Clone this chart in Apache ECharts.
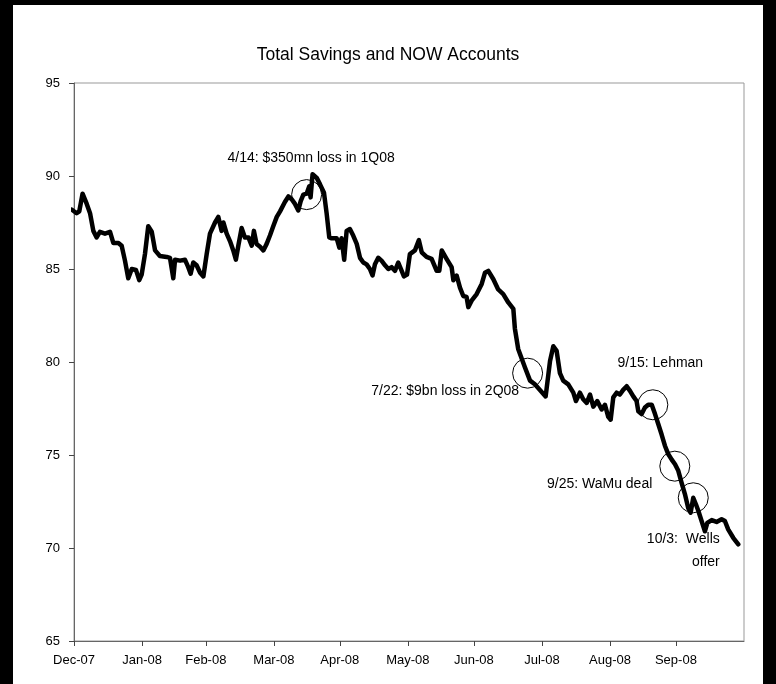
<!DOCTYPE html>
<html>
<head>
<meta charset="utf-8">
<title>Total Savings and NOW Accounts</title>
<script src="https://cdn.jsdelivr.net/npm/echarts@6/dist/echarts.min.js"></script>
<style>
  html, body { margin: 0; padding: 0; background: #000; width: 776px; height: 684px; overflow: hidden; }
  #chart { position: absolute; left: 13px; top: 5px; width: 750px; height: 679px; background: #fff; }
</style>
</head>
<body>
<div id="chart"></div>
<script>
// x = days counted from 1 Jan 2008 (the tick labelled Dec-07)
const dayOffsets = [
  -3.3, -3.0, -1.1, 1.2, 2.4, 3.9, 5.8, 7.3, 8.8, 10.3,
  11.8, 14.1, 16.4, 17.9, 20.2, 21.7, 23.2, 24.7, 26.3, 28.2,
  29.7, 30.8, 32.3, 33.8, 35.4, 36.9, 39.1, 42.2, 43.7, 45.2,
  46.0, 48.3, 50.5, 52.0, 53.1, 54.3, 55.8, 57.4, 58.9, 60.4,
  61.9, 64.2, 65.7, 67.2, 68.0, 69.5, 71.0, 72.5, 73.7, 74.8,
  76.3, 77.8, 79.4, 80.9, 81.9, 83.1, 84.7, 86.2, 87.7, 89.2,
  90.7, 92.3, 93.8, 94.5, 96.0, 97.6, 99.1, 100.6, 102.1, 103.2,
  104.4, 105.9, 107.1, 107.7, 108.6, 110.5, 112.0, 113.8, 115.0, 116.2,
  117.3, 119.6, 120.8, 121.8, 123.0, 124.1, 125.6, 127.1, 128.7, 130.2,
  131.7, 133.2, 134.7, 135.9, 137.0, 138.5, 140.0, 141.6, 143.1, 144.6,
  146.1, 147.6, 150.2, 151.6, 152.9, 155.2, 157.0, 158.3, 160.5, 162.8,
  165.1, 166.3, 167.4, 169.6, 171.9, 172.7, 174.2, 175.7, 177.2, 178.7,
  179.5, 181.0, 183.3, 185.6, 187.1, 188.6, 190.9, 193.1, 195.4, 197.7,
  200.0, 200.7, 202.2, 205.3, 207.6, 209.8, 212.1, 214.7, 216.7, 218.2,
  219.7, 221.2, 222.7, 225.0, 227.3, 228.5, 230.3, 231.8, 233.4, 234.9,
  236.4, 238.2, 240.2, 241.7, 243.2, 244.3, 245.5, 247.0, 248.5, 250.0,
  251.6, 253.1, 254.6, 256.1, 256.9, 258.4, 259.9, 261.4, 263.0, 264.5,
  266.0, 267.5, 269.0, 270.5, 272.1, 273.6, 275.1, 276.6, 278.1, 279.6,
  280.7, 281.9, 283.1, 284.2, 285.7, 287.2, 288.3, 290.3, 292.5, 294.8,
  296.3, 297.8, 300.1, 302.4
]

const balances = [
  86.3, 88.2, 88.2, 88.0, 88.1, 89.05, 88.5, 88.0, 87.05, 86.7,
  87.0, 86.9, 87.0, 86.4, 86.4, 86.25, 85.45, 84.5, 85.0, 84.95,
  84.4, 84.7, 85.8, 87.3, 87.0, 86.0, 85.7, 85.65, 85.6, 84.5,
  85.5, 85.45, 85.5, 85.1, 84.75, 85.35, 85.2, 84.8, 84.6, 85.8,
  86.9, 87.5, 87.8, 87.05, 87.5, 86.9, 86.5, 86.0, 85.5, 86.25,
  87.2, 86.7, 86.7, 86.25, 87.05, 86.35, 86.2, 86.0, 86.35, 86.8,
  87.3, 87.8, 88.1, 88.2, 88.6, 88.9, 88.75, 88.5, 88.15, 88.65,
  89.0, 89.05, 89.45, 88.85, 90.1, 89.9, 89.55, 89.1, 88.0, 86.7,
  86.65, 86.65, 86.15, 86.65, 85.5, 87.05, 87.15, 86.8, 86.35, 85.6,
  85.35, 85.25, 85.0, 84.65, 85.25, 85.6, 85.45, 85.2, 85.0, 85.1,
  84.9, 85.35, 84.6, 84.7, 85.8, 86.0, 86.55, 85.9, 85.65, 85.55,
  84.9, 84.9, 86.0, 85.55, 85.1, 84.4, 84.65, 84.0, 83.55, 83.5,
  82.95, 83.3, 83.65, 84.2, 84.8, 84.9, 84.45, 83.9, 83.65, 83.2,
  82.85, 81.8, 80.7, 79.7, 79.0, 78.8, 78.5, 78.15, 80.05, 80.85,
  80.6, 79.4, 79.0, 78.8, 78.35, 77.9, 78.35, 78.0, 77.8, 78.25,
  77.6, 77.9, 77.45, 77.7, 77.05, 76.9, 78.1, 78.35, 78.25, 78.5,
  78.7, 78.45, 78.15, 77.9, 77.35, 77.2, 77.55, 77.7, 77.7, 77.2,
  76.65, 76.1, 75.5, 75.05, 74.75, 74.5, 74.15, 73.5, 72.9, 72.15,
  71.9, 72.7, 72.35, 72.0, 71.45, 70.9, 71.35, 71.5, 71.4, 71.55,
  71.45, 71.0, 70.55, 70.2
]

const monthTicks = [0, 31, 60, 91, 121, 152, 182, 213, 244, 274]
const monthLabels = ['Dec-07', 'Jan-08', 'Feb-08', 'Mar-08', 'Apr-08', 'May-08', 'Jun-08', 'Jul-08', 'Aug-08', 'Sep-08']
const yTicks = [65, 70, 75, 80, 85, 90, 95]

const noteDays = [105.9, 206.5, 263.5, 273.5, 281.9]
const noteValues = [89.0, 79.4, 77.7, 74.4, 72.7]
const noteTexts = ['4/14: $350mn loss in 1Q08', '7/22: $9bn loss in 2Q08', '9/15: Lehman', '9/25: WaMu deal', '10/3:  Wells\noffer']

// label placement, relative to the 30px circle box
const noteLabelPlace = [
  { position: [20, -21], align: 'center' },
  { position: [7, 33], align: 'right' },
  { position: [23, -26], align: 'center' },
  { position: [-7, 33], align: 'right' },
  { position: [42, 68], align: 'right' }
]

const font = "'Liberation Sans', Arial, sans-serif"
const chart = echarts.init(document.getElementById('chart'))

chart.setOption({
  animation: false,
  title: {
    text: 'Total Savings and NOW Accounts',
    left: 'center',
    top: 36,
    textStyle: { fontFamily: font, fontSize: 17.5, fontWeight: 'normal', color: '#000' }
  },
  grid: {
    left: 61,
    right: 19,
    top: 78,
    bottom: 43,
    show: true,
    borderColor: '#999',
    borderWidth: 1
  },
  xAxis: {
    type: 'value',
    min: 0,
    max: 305,
    splitLine: { show: false },
    axisLine: { lineStyle: { color: '#666', width: 1 } },
    axisTick: { customValues: monthTicks, length: 5, lineStyle: { color: '#444' } },
    axisLabel: {
      customValues: monthTicks,
      formatter: v => monthLabels[monthTicks.indexOf(v)],
      margin: 13,
      fontFamily: font,
      fontSize: 13,
      color: '#000'
    }
  },
  yAxis: {
    type: 'value',
    min: 65,
    max: 95,
    interval: 5,
    splitLine: { show: false },
    axisLine: { show: true, lineStyle: { color: '#666', width: 1 } },
    axisTick: { show: true, length: 5, lineStyle: { color: '#444' } },
    axisLabel: {
      formatter: v => (yTicks.includes(v) ? String(v) : ''),
      margin: 14,
      fontFamily: font,
      fontSize: 13,
      color: '#000'
    }
  },
  series: [{
    type: 'line',
    data: dayOffsets.map((d, i) => [d, balances[i]]),
    showSymbol: false,
    clip: false,
    silent: true,
    lineStyle: { color: '#000', width: 4.5, join: 'round', cap: 'round' },
    markPoint: {
      silent: true,
      symbol: 'circle',
      symbolSize: 30,
      itemStyle: { color: 'rgba(0,0,0,0)', borderColor: '#000', borderWidth: 1 },
      data: noteDays.map((d, i) => ({
        coord: [d, noteValues[i]],
        label: {
          show: true,
          formatter: noteTexts[i],
          position: noteLabelPlace[i].position,
          align: noteLabelPlace[i].align,
          verticalAlign: 'middle',
          lineHeight: 23,
          fontFamily: font,
          fontSize: 14,
          color: '#000'
        }
      }))
    }
  }]
})
</script>
</body>
</html>
